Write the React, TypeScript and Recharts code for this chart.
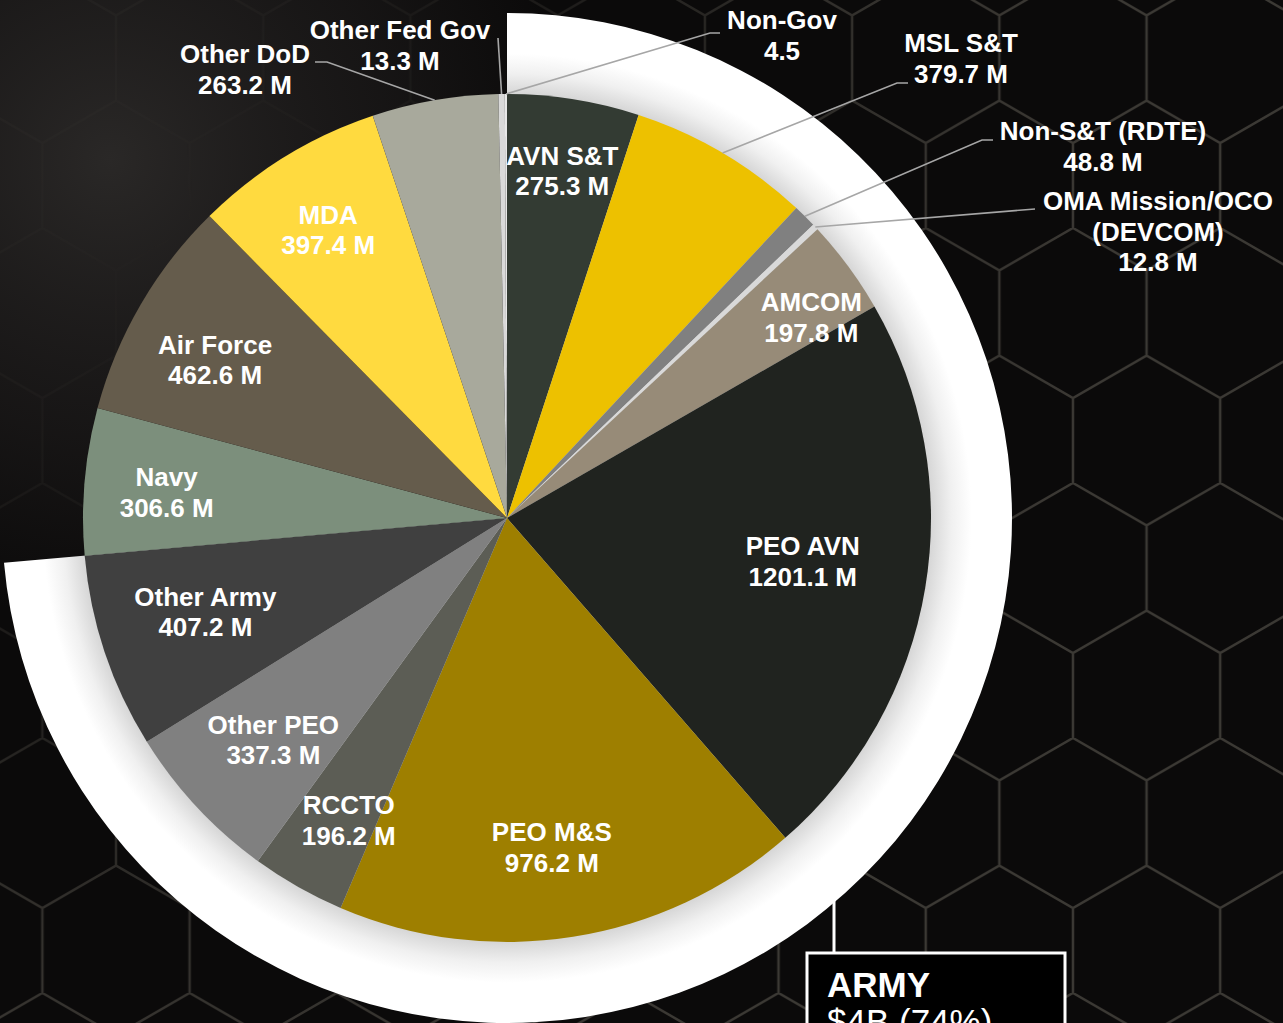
import React from "react";
import { PieChart, Pie, Cell } from "recharts";

// funding by customer, $M (clockwise from 12 o'clock)
const categories = [
  "AVN S&T",
  "MSL S&T",
  "Non-S&T (RDTE)",
  "OMA Mission/OCO\n(DEVCOM)",
  "AMCOM",
  "PEO AVN",
  "PEO M&S",
  "RCCTO",
  "Other PEO",
  "Other Army",
  "Navy",
  "Air Force",
  "MDA",
  "Other DoD",
  "Other Fed Gov",
  "Non-Gov",
];
const amounts = [
  275.3, 379.7, 48.8, 12.8, 197.8, 1201.1, 976.2, 196.2, 337.3, 407.2, 306.6,
  462.6, 397.4, 263.2, 13.3, 4.5,
];
const armyCategories = categories.slice(0, 10);
const unitless = ["Non-Gov"];
const sliceColors = [
  "#333B33", "#EDC100", "#808080", "#D9D9D9", "#978B78", "#20231F",
  "#9E7F00", "#5C5D55", "#808080", "#404040", "#7C8F7C", "#655C4C",
  "#FFDA3F", "#A8A99C", "#D9D9D9", "#E8E8E8",
];

const W = 1283;
const H = 1023;
const CX = 507;
const CY = 518;
const R = 424;
const RING_R = 505;
const RAD = Math.PI / 180;
const FONT = "'Liberation Sans', Arial, sans-serif";

// inside labels: [fraction of radius, angle nudge in degrees]
const innerLabelPos: Record<string, [number, number]> = {
  "AVN S&T": [0.83, 0],
  AMCOM: [0.86, -3],
  "PEO AVN": [0.705, 1.2],
  "PEO M&S": [0.783, -1.2],
  RCCTO: [0.804, 1.9],
  "Other PEO": [0.76, 0.6],
  "Other Army": [0.745, -1.2],
  Navy: [0.805, 0.6],
  "Air Force": [0.783, 1.8],
  MDA: [0.8, 0.3],
};

// labels outside the pie, offsets from pie centre
const callouts: Record<
  string,
  { dx: number; dy: number; from: [number, number]; elbow?: [number, number] }
> = {
  "Other Fed Gov": { dx: -107, dy: -488, from: [-9, -480] },
  "Other DoD": { dx: -262, dy: -464, from: [-192, -456], elbow: [-180, -456] },
  "Non-Gov": { dx: 275, dy: -498, from: [213, -485], elbow: [203, -485] },
  "MSL S&T": { dx: 454, dy: -475, from: [401, -435], elbow: [390, -435] },
  "Non-S&T (RDTE)": { dx: 596, dy: -387, from: [486, -378], elbow: [475, -378] },
  "OMA Mission/OCO\n(DEVCOM)": { dx: 651, dy: -317, from: [528, -309] },
};

const pieData = categories.map((name, i) => ({ name, value: amounts[i] }));
const total = amounts.reduce((a, b) => a + b, 0);
const armyTotal = amounts
  .filter((_, i) => armyCategories.includes(categories[i]))
  .reduce((a, b) => a + b, 0);
const ringData = [
  { name: "Army", value: armyTotal },
  { name: "Rest", value: total - armyTotal },
];

const amountText = (i: number) =>
  unitless.includes(categories[i])
    ? `${amounts[i]}`
    : `${amounts[i].toFixed(1)} M`;

const LINE = 30.5;

function renderLabel(props: any) {
  const { cx, cy, midAngle, outerRadius, index } = props;
  const name = categories[index];
  const lines = [...name.split("\n"), amountText(index)];
  const co = callouts[name];

  let lx: number;
  let firstY: number;
  let leader: React.ReactNode = null;
  if (co) {
    lx = cx + co.dx;
    firstY = cy + co.dy;
    const pts: number[][] = [[cx + co.from[0], cy + co.from[1]]];
    if (co.elbow) pts.push([cx + co.elbow[0], cy + co.elbow[1]]);
    pts.push([
      cx + outerRadius * Math.cos(-midAngle * RAD),
      cy + outerRadius * Math.sin(-midAngle * RAD),
    ]);
    leader = (
      <polyline
        points={pts.map((p) => p.join(",")).join(" ")}
        fill="none"
        stroke="#A6A6A6"
        strokeWidth={1.6}
      />
    );
  } else {
    const [frac, nudge] = innerLabelPos[name] ?? [0.79, 0];
    const a = -(midAngle + nudge) * RAD;
    const r = outerRadius * frac;
    lx = cx + r * Math.cos(a);
    firstY = cy + r * Math.sin(a) - ((lines.length - 1) * LINE) / 2;
  }

  return (
    <g key={`lbl-${index}`}>
      {leader}
      <text
        x={lx}
        y={firstY + 9.3}
        textAnchor="middle"
        fill="#FFFFFF"
        fontFamily={FONT}
        fontWeight="bold"
        fontSize={26}
      >
        {lines.map((t, k) => (
          <tspan key={k} x={lx} dy={k === 0 ? 0 : LINE}>
            {t}
          </tspan>
        ))}
      </text>
    </g>
  );
}

const HEX_S = 85;
const HEX_W = HEX_S * Math.sqrt(3);
const hexPath = `M${HEX_W / 2},0 L${HEX_W},${HEX_S / 2} L${HEX_W},${1.5 * HEX_S} L${HEX_W / 2},${2 * HEX_S} L0,${1.5 * HEX_S} L0,${HEX_S / 2} Z M${HEX_W / 2},${2 * HEX_S} L${HEX_W / 2},${3 * HEX_S}`;

export default function App() {
  const boxX = 807;
  const boxY = 953;
  const stemX = 834;
  const stemTop = CY + Math.sqrt(RING_R * RING_R - (stemX - CX) * (stemX - CX)) - 4;
  const armyShare = Math.round((armyTotal / total) * 100);

  return (
    <div
      style={{
        position: "absolute",
        left: 0,
        top: 0,
        width: W,
        height: H,
        overflow: "hidden",
        background: "#0B0A0A",
      }}
    >
      <svg
        width={W}
        height={H}
        style={{ position: "absolute", left: 0, top: 0 }}
      >
        <defs>
          <pattern
            id="hex"
            x={116}
            y={228}
            width={HEX_W}
            height={3 * HEX_S}
            patternUnits="userSpaceOnUse"
          >
            <path d={hexPath} fill="none" stroke="#48453F" strokeWidth={2.5} />
          </pattern>
          <radialGradient id="haze" cx={110} cy={160} r={460} gradientUnits="userSpaceOnUse">
            <stop offset="0" stopColor="#2A2827" stopOpacity={1} />
            <stop offset="0.6" stopColor="#1C1A1A" stopOpacity={0.7} />
            <stop offset="1" stopColor="#1C1A1A" stopOpacity={0} />
          </radialGradient>
          <radialGradient id="hexFade" cx={200} cy={250} r={900} gradientUnits="userSpaceOnUse">
            <stop offset="0" stopColor="#000" />
            <stop offset="0.35" stopColor="#333" />
            <stop offset="0.75" stopColor="#CCC" />
            <stop offset="1" stopColor="#FFF" />
          </radialGradient>
          <mask id="hexMask">
            <rect width={W} height={H} fill="url(#hexFade)" />
          </mask>
          <radialGradient id="ringFill" cx={CX} cy={CY} r={RING_R} gradientUnits="userSpaceOnUse">
            <stop offset="0.83" stopColor="#D0D0D0" />
            <stop offset="0.88" stopColor="#F0F0F0" />
            <stop offset="0.92" stopColor="#FFFFFF" />
            <stop offset="1" stopColor="#FFFFFF" />
          </radialGradient>
        </defs>
        <rect width={W} height={H} fill="#0B0A0A" />
        <rect width={W} height={H} fill="url(#haze)" />
        <rect width={W} height={H} fill="url(#hex)" opacity={0.8} mask="url(#hexMask)" />
      </svg>

      <div style={{ position: "absolute", left: 0, top: 0 }}>
        <PieChart width={W} height={H} margin={{ top: 0, right: 0, bottom: 0, left: 0 }}>
          <Pie
            data={ringData}
            dataKey="value"
            cx={CX}
            cy={CY}
            outerRadius={RING_R}
            startAngle={90}
            endAngle={-270}
            stroke="none"
            isAnimationActive={false}
          >
            <Cell fill="url(#ringFill)" />
            <Cell fill="transparent" />
          </Pie>
          <Pie
            data={pieData}
            dataKey="value"
            nameKey="name"
            cx={CX}
            cy={CY}
            outerRadius={R}
            startAngle={90}
            endAngle={-270}
            stroke="none"
            label={renderLabel}
            labelLine={false}
            isAnimationActive={false}
          >
            {pieData.map((d, i) => (
              <Cell key={d.name} fill={sliceColors[i]} />
            ))}
          </Pie>
        </PieChart>
      </div>

      <svg
        width={W}
        height={H}
        style={{ position: "absolute", left: 0, top: 0, pointerEvents: "none" }}
      >
        <line x1={stemX} y1={stemTop} x2={stemX} y2={boxY} stroke="#FFFFFF" strokeWidth={3} />
        <rect
          x={boxX}
          y={boxY}
          width={258}
          height={130}
          fill="#000000"
          stroke="#FFFFFF"
          strokeWidth={3}
        />
        <text x={boxX + 20} y={997} fill="#FFFFFF" fontFamily={FONT} fontWeight="bold" fontSize={35}>
          ARMY
        </text>
        <text x={boxX + 20} y={1034} fill="#FFFFFF" fontFamily={FONT} fontSize={35}>
          {`$${Math.round(armyTotal / 1000)}B (${armyShare}%)`}
        </text>
      </svg>
    </div>
  );
}
